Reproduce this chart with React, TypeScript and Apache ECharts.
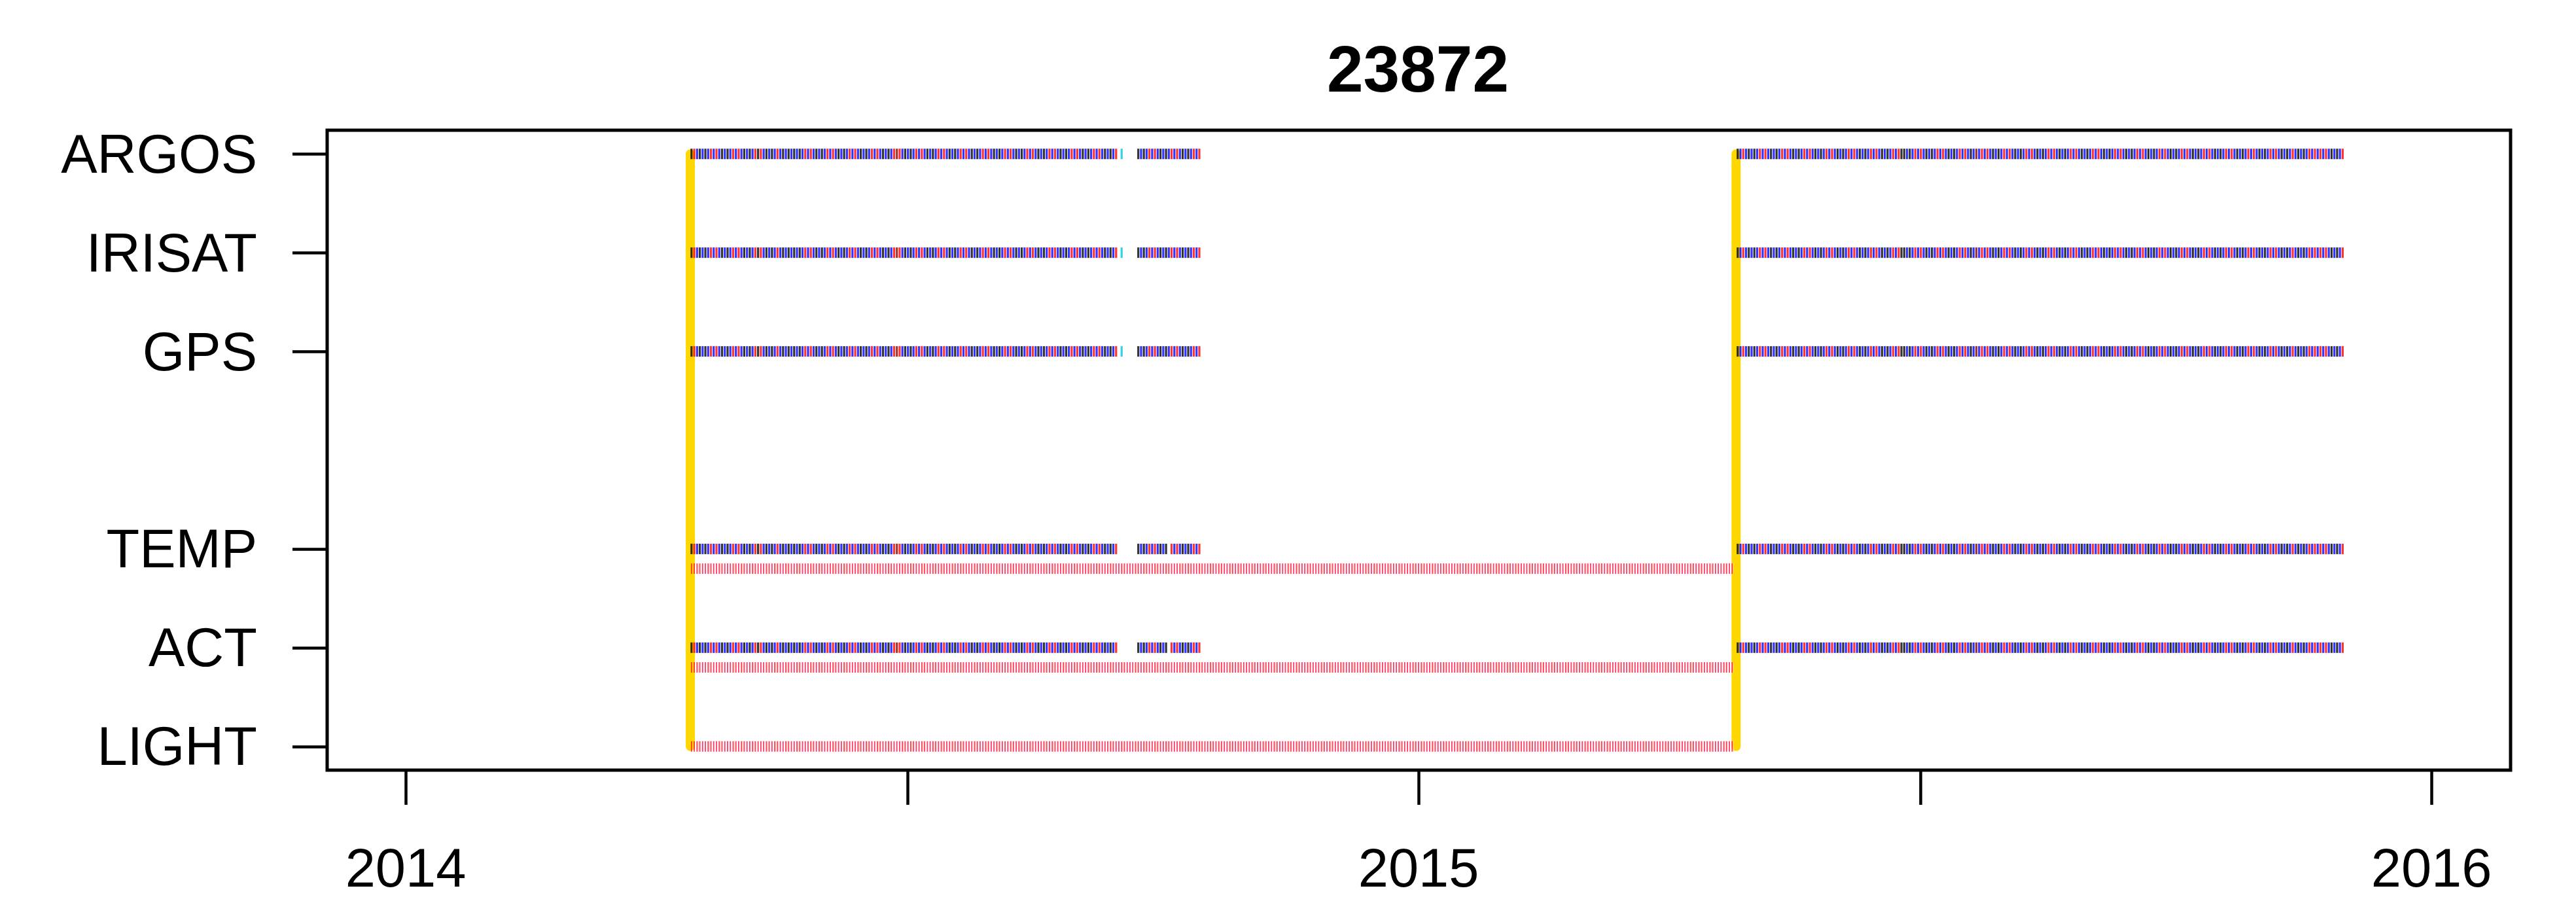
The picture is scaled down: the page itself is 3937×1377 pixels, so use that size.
import React, { useEffect, useRef } from "react";
import * as echarts from "echarts";

const TITLE = "23872";
const ROW_NAMES = ["LIGHT", "ACT", "TEMP", "GPS", "IRISAT", "ARGOS"];
const ROW_VALUES = [1, 2, 3, 5, 6, 7];
const X_TICK_DATES = ["2014-01-01", "2014-07-01", "2015-01-01", "2015-07-01", "2016-01-01"];
const X_LABEL_DATES = ["2014-01-01", "2015-01-01", "2016-01-01"];
const X_MIN = "2013-12-03T17:00:00Z";
const X_MAX = "2016-01-29T12:00:00Z";
const Y_MIN = 0.76;
const Y_MAX = 7.24;

// deployment start dates (yellow lines spanning LIGHT..ARGOS)
const DEPLOY_DATES = ["2014-04-13T14:00:00Z", "2015-04-25T10:00:00Z"];
const DEPLOY_Y = [1, 7];

// upper rows (message types); one code per day, "." = no record
const UPPER_ROWS = [2, 3, 5, 6, 7];
const UPPER_START_2014 = "2014-04-14";
const UPPER_CODES_2014 =
  "KRBKBKBRBR" + "BKBKBRBRBK" + "BKBRKRBKBK" + "BRBKBKBKBK" + "BRBRBKBKBR" +
  "BRBKBKBRBR" + "BKBKBRBRBK" + "BKBRDRBKBK" + "BRBRBKBKBR" + "BRBKBKBRBR" +
  "BKBKBRBRBK" + "BKBRBRBKBK" + "BRBRBKBKBR" + "BRBKBKBRBR" + "BKBKBRBRBKBKBR" +
  ".C....." +
  "KBKBRBRBKBKBRBRBKBKBRBR";
const UPPER_START_2015 = "2015-04-26";
const UPPER_CODES_2015 =
  "KBRBKBKBRB" + "RBKBKBRBRB" + "KBKBRBRBKB" + "KBRBRBKBKB" + "RBRBKBKBRB" +
  "RBKBKBRBRK" + "KBKBRBRBKB" + "KBRBRBKBKB" + "RBRBKBDBRB" + "RBKBKBRBRB" +
  "KBKBRBRBKB" + "KBRBRBKBKB" + "RBRBKBKBRB" + "RBKBKBRBRB" + "KBKBRBRBKB" +
  "KBRBRBKBKB" + "RBRBKBKBRB" + "RBKBKBRBRB" + "KBKBRBRBKB" + "KBRBRBKBKB" +
  "RBKBKBRBRB" + "RBRBKBKBR";
// TEMP and ACT lack these days
const TEMP_ACT_ROWS = [2, 3];
const TEMP_ACT_MISSING = ["2014-09-16", "2014-10-03"];

// lower rows (LIGHT and the sub-rows under ACT / TEMP); R = red, P = red + pale
const LOWER_ROWS = [1, 1.8, 2.8];
const LOWER_START = "2014-04-14";
const LOWER_CODES =
  "RRPRRRPRRR" + "PRRRRPRRPR" + "RRPRRRRPRR" + "PRRRPRRRPR" + "RRRPRRPRRR" +
  "RPRRRPRRRR" + "PRRPRRRPRR" + "RPRRRRPRRP" + "RRRPRRRPRR" + "PRRRPRRPRR" +
  "RRPRRRPRRR" + "PRRRRPRRPR" + "RRPRRRRPRR" + "PRRRPRRRPR" + "RRRPRRPRRR" +
  "RPRRRPRRRR" + "PRRPRRRPRR" + "RPRRRRPRRP" + "RRRPRRRPRR" + "PRRRPRRPRR" +
  "RRPRRRPRRR" + "PRRRRPRRPR" + "RRPRRRRPRR" + "PRRRPRRRPR" + "RRRPRRPRRR" +
  "RPRRRPRRRR" + "PRRPRRRPRR" + "RPRRRRPRRP" + "RRRPRRRPRR" + "PRRRPRRPRR" +
  "RRPRRRPRRR" + "PRRRRPRRPR" + "RRPRRRRPRR" + "PRRRPRRRPR" + "RRRPRRPRRR" +
  "RPRRRPRRRR" + "PRRPRRRPRR" + "RRPRRP";

const UPPER_COLORS: Record<string, string> = {
  K: "#000000",
  B: "#0000FF",
  R: "#FF0000",
  D: "#8B0000",
  C: "#00C8E0",
};
const LOWER_RED = "#FF0A3C";
const LOWER_PALE = "#FFD29A";
const FONT = '"Liberation Sans", Arial, Helvetica, sans-serif';
const DAY = 86400000;

function ts(s: string): number {
  return new Date(s.length === 10 ? s + "T00:00:00Z" : s).getTime();
}

export default function App() {
  const ref = useRef<HTMLDivElement | null>(null);

  useEffect(() => {
    if (!ref.current) return;
    const chart = echarts.init(ref.current, null, { renderer: "svg" });

    const missing = new Set(TEMP_ACT_MISSING.map(ts));
    const buckets: Record<string, number[][]> = {};
    const segs = [
      { start: ts(UPPER_START_2014), codes: UPPER_CODES_2014 },
      { start: ts(UPPER_START_2015), codes: UPPER_CODES_2015 },
    ];
    UPPER_ROWS.forEach((row) => {
      segs.forEach((seg) => {
        for (let i = 0; i < seg.codes.length; i++) {
          const c = seg.codes[i];
          if (c === ".") continue;
          const t = seg.start + i * DAY;
          if (TEMP_ACT_ROWS.includes(row) && missing.has(t)) continue;
          (buckets[c] = buckets[c] || []).push([t, row]);
        }
      });
    });

    const red: number[][] = [];
    const pale: number[][] = [];
    const lowStart = ts(LOWER_START);
    LOWER_ROWS.forEach((row) => {
      for (let i = 0; i < LOWER_CODES.length; i++) {
        const t = lowStart + i * DAY;
        red.push([t, row]);
        if (LOWER_CODES[i] === "P") pale.push([t + 0.45 * DAY, row]);
      }
    });

    const series: any[] = [];
    DEPLOY_DATES.forEach((d) => {
      series.push({
        type: "line",
        data: DEPLOY_Y.map((y) => [ts(d), y]),
        symbol: "none",
        silent: true,
        z: 2,
        lineStyle: { color: "#FFD700", width: 14, cap: "round" },
      });
    });
    series.push({
      type: "scatter",
      data: pale,
      symbol: "rect",
      symbolSize: [1.5, 16],
      itemStyle: { color: LOWER_PALE },
      silent: true,
      progressive: 0,
      z: 3,
    });
    series.push({
      type: "scatter",
      data: red,
      symbol: "rect",
      symbolSize: [1.8, 16],
      itemStyle: { color: LOWER_RED },
      silent: true,
      progressive: 0,
      z: 3,
    });
    Object.keys(buckets).forEach((c) => {
      series.push({
        type: "scatter",
        data: buckets[c],
        symbol: "rect",
        symbolSize: [3.2, 16],
        itemStyle: { color: UPPER_COLORS[c] },
        silent: true,
        progressive: 0,
        z: 4,
      });
    });

    chart.setOption({
      animation: false,
      backgroundColor: "#ffffff",
      grid: {
        show: true,
        left: 500,
        right: 100,
        top: 199,
        bottom: 200,
        borderColor: "#000000",
        borderWidth: 5,
        backgroundColor: "transparent",
      },
      graphic: [
        {
          type: "text",
          x: 2167,
          y: 105,
          style: {
            text: TITLE,
            fontSize: 100,
            fontWeight: "bold",
            fontFamily: FONT,
            fill: "#000000",
            align: "center",
            verticalAlign: "middle",
          },
        },
      ],
      xAxis: {
        type: "value",
        min: ts(X_MIN),
        max: ts(X_MAX),
        axisLine: { show: false },
        splitLine: { show: false },
        axisTick: {
          show: true,
          length: 53,
          customValues: X_TICK_DATES.map(ts),
          lineStyle: { color: "#000000", width: 4.5 },
        },
        axisLabel: {
          show: true,
          customValues: X_LABEL_DATES.map(ts),
          formatter: (v: number) => String(new Date(v).getUTCFullYear()),
          fontSize: 83,
          fontFamily: FONT,
          color: "#000000",
          margin: 108,
        },
      },
      yAxis: {
        type: "value",
        min: Y_MIN,
        max: Y_MAX,
        axisLine: { show: false },
        splitLine: { show: false },
        axisTick: {
          show: true,
          length: 53,
          customValues: ROW_VALUES,
          lineStyle: { color: "#000000", width: 4.5 },
        },
        axisLabel: {
          show: true,
          customValues: ROW_VALUES,
          formatter: (v: number) => {
            const i = ROW_VALUES.indexOf(Math.round(v));
            return i >= 0 ? ROW_NAMES[i] : "";
          },
          fontSize: 83,
          fontFamily: FONT,
          color: "#000000",
          margin: 107,
        },
      },
      series,
    });

    return () => chart.dispose();
  }, []);

  return (
    <div
      ref={ref}
      style={{ position: "absolute", left: 0, top: 0, width: 3937, height: 1377 }}
    />
  );
}
